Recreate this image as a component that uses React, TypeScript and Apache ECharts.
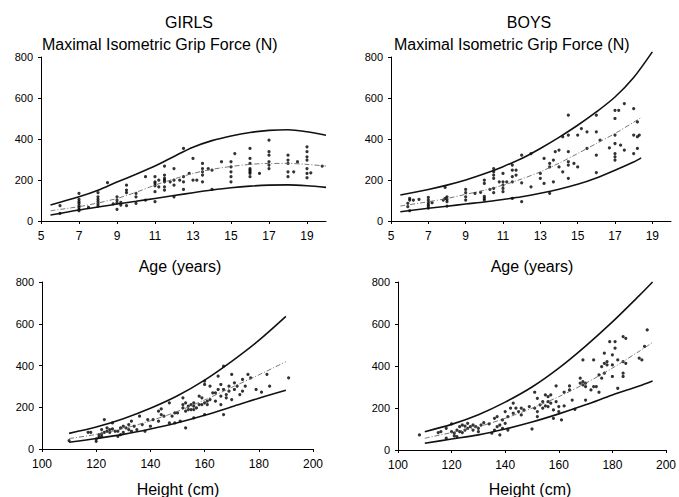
import React, { useEffect, useRef } from "react";
import * as echarts from "echarts";

// ---------- DATA ----------
const girlsAgePts: [number, number][] = [
  [6, 75], [6, 37],
  [7, 135], [7, 105], [7, 94], [7, 86], [7, 75], [7, 67], [7, 57], [7, 50],
  [7.5, 67],
  [8, 138], [8, 118], [8, 105], [8, 94], [8, 83], [8, 73],
  [8.5, 187], [8.8, 83],
  [9, 118], [9, 102], [9, 89], [9, 57], [9.2, 91], [9.2, 78],
  [9.5, 175], [9.5, 151], [9.5, 138], [9.5, 75],
  [10, 135], [10, 118], [10, 86],
  [10.5, 216], [10.5, 102],
  [11, 216], [11, 191], [11, 183], [11, 172], [11, 143], [11, 94],
  [11.2, 199], [11.2, 167],
  [11.5, 268], [11.5, 224], [11.5, 208], [11.5, 199], [11.5, 191], [11.5, 167], [11.5, 151],
  [11.8, 191],
  [12, 256], [12, 199], [12, 175], [12, 118], [12.3, 199],
  [12.5, 354], [12.5, 216], [12.5, 191], [12.5, 154],
  [12.8, 232], [13, 305], [13, 199], [13.2, 199],
  [13.5, 281], [13.5, 256], [13.5, 240], [13.5, 224], [13.5, 191],
  [13.8, 256], [14, 248], [14, 154], [14.5, 289],
  [15, 289], [15, 264], [15, 240], [15, 216], [15, 191], [15.2, 329],
  [16, 354], [16, 305], [16, 281], [16, 256], [16, 248], [16, 240], [16, 232], [16, 216],
  [16.5, 232],
  [17, 394], [17, 338], [17, 321], [17, 289], [17, 273], [17, 256],
  [18, 321], [18, 297], [18, 281], [18, 240], [18, 216], [18.3, 240], [18.5, 289],
  [19, 362], [19, 338], [19, 313], [19, 297], [19, 256], [19, 232], [19, 211],
  [19.2, 235], [19.8, 268],
];

const boysAgePts: [number, number][] = [
  [5.9, 70], [5.9, 86], [6, 110], [6, 102], [6, 50], [6.2, 102], [6.5, 105],
  [7, 115], [7, 102], [7, 91], [7, 81], [7, 73], [7, 63], [7.2, 89],
  [7.8, 102], [7.9, 164], [7.9, 110],
  [8, 118], [8, 105], [8, 94], [8, 73],
  [9, 154], [9, 138], [9, 118], [9, 102], [9.5, 135], [9.8, 140],
  [10, 199], [10, 183], [10, 120], [10, 110], [10, 102], [10.3, 154],
  [10.5, 256], [10.5, 240], [10.5, 224], [10.5, 208], [10.5, 159], [10.5, 138],
  [10.8, 191],
  [11, 232], [11, 191], [11, 175], [11, 159], [11, 143], [11.2, 191],
  [11.5, 273], [11.5, 248], [11.5, 216], [11.5, 191], [11.5, 110],
  [11.7, 248], [11.7, 224],
  [12, 321], [12, 186], [12, 94], [12.5, 329], [12.5, 167],
  [13, 232], [13, 208], [13.2, 305], [13.2, 183],
  [13.5, 281], [13.5, 264], [13.5, 135], [13.7, 297], [13.7, 191], [13.8, 338],
  [14, 346], [14, 264], [14.2, 411], [14.2, 240],
  [14.5, 516], [14.5, 419], [14.5, 338], [14.5, 289], [14.5, 273], [14.5, 208],
  [14.8, 281], [15, 419], [15, 264], [15.2, 451], [15.5, 435], [15.5, 354],
  [16, 516], [16, 435], [16, 321], [16, 236], [16.2, 394], [16.7, 357],
  [17, 540], [17, 500], [17, 419], [17, 378], [17, 329], [17, 313], [17, 297],
  [17.2, 540], [17.3, 370], [17.5, 573], [17.5, 346],
  [18, 548], [18, 419], [18, 329], [18.2, 483], [18.2, 411], [18.2, 354], [18.3, 419],
];

const girlsHtPts: [number, number][] = [
  [110, 40], [117, 80], [118, 80], [120, 48], [120, 37], [121, 69], [121, 57],
  [122, 93], [122, 73], [122, 61], [123, 141], [123, 80], [124, 101], [124, 85],
  [125, 93], [125, 80], [126, 125], [126, 96], [127, 85], [128, 85], [128, 61],
  [129, 101], [129, 69], [130, 109], [130, 80], [131, 101], [132, 117], [132, 93],
  [133, 133], [133, 85], [134, 109], [135, 93], [136, 157], [137, 117], [138, 85],
  [139, 141], [140, 109], [141, 141], [143, 181], [143, 133], [144, 192], [144, 165],
  [145, 157], [147, 221], [147, 125], [148, 157], [149, 173], [149, 125], [150, 173],
  [151, 133], [152, 245], [152, 213], [152, 197], [153, 221], [153, 181], [153, 101],
  [154, 205], [154, 189], [155, 213], [155, 189], [156, 221], [156, 205], [156, 189],
  [156, 149], [157, 197], [158, 253], [158, 213], [159, 245], [159, 213],
  [160, 325], [160, 309], [160, 221], [160, 165], [161, 229], [161, 213],
  [162, 301], [162, 237], [163, 269], [164, 269], [164, 229], [165, 349], [165, 285],
  [166, 309], [166, 253], [166, 213], [167, 397], [167, 285], [167, 165],
  [168, 261], [168, 245], [169, 301], [169, 277], [170, 357], [170, 237],
  [171, 317], [171, 285], [172, 301], [173, 261], [174, 333], [174, 277], [175, 301],
  [176, 357], [177, 341], [179, 285], [181, 272], [183, 358], [184, 301], [191, 341],
];

const boysHtPts: [number, number][] = [
  [108, 72], [115, 83], [116, 87], [118, 103], [118, 56], [120, 124], [120, 87],
  [121, 80], [121, 67], [122, 95], [122, 64], [123, 111], [123, 87], [124, 119],
  [124, 83], [125, 114], [125, 95], [126, 127], [126, 103], [127, 111], [128, 119],
  [128, 95], [129, 111], [130, 103], [130, 87], [131, 119], [132, 130], [134, 124],
  [135, 80], [136, 151], [136, 95], [137, 159], [137, 111], [138, 119], [138, 72],
  [139, 143], [139, 103], [140, 183], [140, 127], [141, 159], [141, 95], [142, 199],
  [143, 223], [143, 175], [144, 199], [145, 183], [146, 199], [146, 167], [147, 191],
  [149, 207], [150, 100], [151, 275], [151, 199], [152, 246], [152, 183], [152, 159],
  [153, 215], [154, 230], [154, 199], [155, 262], [155, 210], [156, 254], [156, 230],
  [156, 207], [157, 262], [157, 223], [158, 191], [158, 151], [159, 305], [159, 230],
  [160, 207], [160, 183], [161, 143], [162, 275], [162, 210], [164, 305], [164, 286],
  [165, 238], [166, 194], [168, 342], [168, 318], [169, 429], [169, 326], [169, 310],
  [170, 318], [170, 302], [170, 238], [172, 286], [173, 429], [173, 302], [174, 302],
  [175, 275], [175, 358], [176, 397], [176, 342], [177, 461], [177, 413], [177, 366],
  [178, 421], [178, 405], [179, 516], [180, 453], [180, 405], [180, 350], [181, 516],
  [181, 485], [182, 429], [182, 294], [184, 540], [184, 421], [184, 366], [184, 350],
  [185, 532], [185, 413], [190, 437], [191, 429], [192, 493], [193, 572],
];

// percentile curves (x, lower, middle, upper)
const girlsAgeX = [5.5, 7, 8, 9, 10, 11, 12, 13, 14, 15, 16, 17, 18, 19, 20];
const girlsAgeLow = [29, 54, 68, 83, 96, 110, 124, 138, 151, 162, 170, 175, 176, 172, 164];
const girlsAgeMid = [50, 70, 88, 110, 140, 175, 205, 232, 252, 266, 276, 281, 281, 276, 268];
const girlsAgeUp = [78, 118, 150, 190, 228, 268, 315, 360, 392, 415, 432, 442, 445, 435, 418];

const boysAgeX = [5.5, 7, 8, 9, 10, 11, 12, 13, 14, 15, 16, 17, 18, 18.4];
const boysAgeLow = [45, 62, 72, 83, 93, 105, 118, 135, 155, 179, 210, 248, 288, 308];
const boysAgeMid = [73, 94, 110, 130, 150, 175, 205, 240, 282, 329, 378, 427, 482, 505];
const boysAgeUpX = [5.5, 7, 8, 9, 10, 11, 12, 13, 14, 15, 16, 17, 18, 19];
const boysAgeUp = [127, 154, 175, 200, 230, 265, 305, 354, 408, 467, 532, 605, 700, 825];

const girlsHtX = [110, 120, 130, 140, 150, 160, 170, 180, 190];
const girlsHtLow = [32, 50, 70, 96, 126, 162, 202, 243, 281];
const girlsHtMid = [50, 70, 98, 135, 180, 235, 295, 355, 418];
const girlsHtUp = [75, 105, 145, 195, 255, 330, 420, 520, 635];

const boysHtX = [110, 120, 130, 140, 150, 160, 170, 180, 190, 195];
const boysHtLow = [32, 52, 72, 100, 133, 172, 215, 262, 305, 329];
const boysHtMid = [56, 83, 111, 151, 199, 254, 318, 390, 470, 512];
const boysHtUp = [87, 122, 168, 228, 300, 390, 495, 610, 735, 800];

const yTicks = { min: 0, max: 800, interval: 200 };
const ageAxis = { min: 5, max: 20, interval: 2 };
const heightAxis = { min: 100, max: 200, interval: 20 };

// ---------- CHART ----------
const FONT = "Liberation Sans, Arial, Helvetica, sans-serif";

function zip(xs: number[], ys: number[]) {
  return xs.map((x, i) => [x, ys[i]]);
}

export default function App() {
  const ref = useRef<HTMLDivElement>(null);

  useEffect(() => {
    if (!ref.current) return;
    const chart = echarts.init(ref.current, undefined, { renderer: "svg" });

    const grids = [
      { left: 41, top: 57, width: 285, height: 164 },
      { left: 391, top: 57, width: 280, height: 164 },
      { left: 42, top: 282, width: 271, height: 167 },
      { left: 398, top: 282, width: 269, height: 168 },
    ];

    const axisCommon = {
      type: "value" as const,
      axisLine: { show: true, lineStyle: { color: "#000", width: 1 } },
      axisTick: { show: true, length: 3, lineStyle: { color: "#000" } },
      splitLine: { show: false },
    };

    const xAxes = [0, 1, 2, 3].map((i) => ({
      ...axisCommon,
      gridIndex: i,
      ...(i < 2 ? ageAxis : heightAxis),
      axisLabel: {
        color: "#000",
        fontSize: 12,
        fontFamily: FONT,
        margin: 9,
        showMaxLabel: i >= 2,
      },
    }));
    const yAxes = [0, 1, 2, 3].map((i) => ({
      ...axisCommon,
      gridIndex: i,
      ...yTicks,
      axisLabel: { color: "#000", fontSize: 11, fontFamily: FONT, margin: 8 },
    }));

    const pts = [girlsAgePts, boysAgePts, girlsHtPts, boysHtPts];
    const curves = [
      { x: girlsAgeX, low: girlsAgeLow, mid: girlsAgeMid, upX: girlsAgeX, up: girlsAgeUp },
      { x: boysAgeX, low: boysAgeLow, mid: boysAgeMid, upX: boysAgeUpX, up: boysAgeUp },
      { x: girlsHtX, low: girlsHtLow, mid: girlsHtMid, upX: girlsHtX, up: girlsHtUp },
      { x: boysHtX, low: boysHtLow, mid: boysHtMid, upX: boysHtX, up: boysHtUp },
    ];

    const series: any[] = [];
    curves.forEach((c, i) => {
      const base = {
        type: "line",
        xAxisIndex: i,
        yAxisIndex: i,
        symbol: "none",
        smooth: 0.3,
        silent: true,
        clip: false,
      };
      series.push({ ...base, data: zip(c.x, c.low), lineStyle: { color: "#111", width: 1.6 } });
      series.push({ ...base, data: zip(c.upX, c.up), lineStyle: { color: "#111", width: 1.6 } });
      series.push({
        ...base,
        data: zip(c.x, c.mid),
        lineStyle: { color: "#666", width: 0.9, type: [5, 2, 1, 2] },
      });
      series.push({
        type: "scatter",
        xAxisIndex: i,
        yAxisIndex: i,
        symbol: "circle",
        symbolSize: 3.2,
        itemStyle: { color: "#000" },
        data: pts[i],
      });
    });

    const txt = (text: string, x: number, y: number, align: string) => ({
      type: "text",
      x,
      y,
      style: {
        text,
        fill: "#000",
        font: `16px ${FONT}`,
        textAlign: align,
        textVerticalAlign: "middle",
      },
    });

    chart.setOption({
      animation: false,
      backgroundColor: "#fff",
      grid: grids,
      xAxis: xAxes,
      yAxis: yAxes,
      series,
      graphic: [
        txt("GIRLS", 189, 22, "center"),
        txt("BOYS", 529, 22, "center"),
        txt("Maximal Isometric Grip Force (N)", 42, 44, "left"),
        txt("Maximal Isometric Grip Force (N)", 394, 44, "left"),
        txt("Age (years)", 180, 266, "center"),
        txt("Age (years)", 532, 266, "center"),
        txt("Height (cm)", 178, 489, "center"),
        txt("Height (cm)", 530, 489, "center"),
      ],
    });

    return () => chart.dispose();
  }, []);

  return (
    <div
      ref={ref}
      style={{ position: "fixed", left: 0, top: 0, width: 679, height: 497 }}
    />
  );
}
